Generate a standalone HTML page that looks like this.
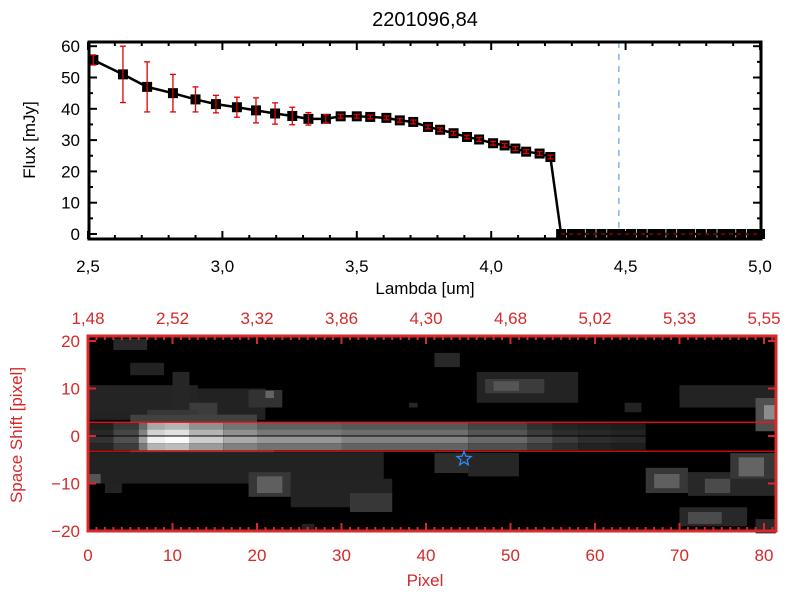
<!DOCTYPE html>
<html><head><meta charset="utf-8"><style>
html,body{margin:0;padding:0;background:#fff;}
svg{display:block;}
text{font-family:"Liberation Sans",sans-serif;}
</style></head><body>
<svg id="chart" width="800" height="600" xmlns="http://www.w3.org/2000/svg">
<rect width="800" height="600" fill="#fff"/>
<g id="top"></g>
<g id="bot"></g>
</svg>
<script>
const lambdas=[2.52,2.63,2.72,2.816,2.90,2.976,3.054,3.125,3.196,3.26,3.32,3.385,3.44,3.50,3.55,3.61,3.66,3.71,3.765,3.81,3.86,3.91,3.955,4.007,4.05,4.09,4.13,4.18,4.22,4.26,4.30,4.33,4.37,4.41,4.45,4.48,4.52,4.56,4.60,4.63,4.67,4.71,4.74,4.78,4.82,4.86,4.89,4.93,4.97,5.0];
const flux=[55.6,51,47,45,43,41.5,40.5,39.5,38.5,37.7,36.8,36.8,37.6,37.6,37.4,37.1,36.3,35.8,34.2,33.3,32.2,31,30.2,29,28.3,27.3,26.3,25.7,24.6,0,0,0,0,0,0,0,0,0,0,0,0,0,0,0,0,0,0,0,0,0];
const fluxErr=[1.6,9,8,6,4,2.8,3.2,4,3.4,2.8,2,1.3,0.6,0.6,0.6,0.6,0.6,0.6,0.6,0.6,0.6,0.6,0.6,0.6,0.6,0.6,0.6,0.6,0.6,0,0,0,0,0,0,0,0,0,0,0,0,0,0,0,0,0,0,0,0,0];
const xTicks=["2,5","3,0","3,5","4,0","4,5","5,0"];
const xTickVals=[2.5,3.0,3.5,4.0,4.5,5.0];
const yTickVals=[0,10,20,30,40,50,60];
const cutoffLambda=4.475;
const pixTickVals=[0,10,20,30,40,50,60,70,80];
const lambdaTopLabels=["1,48","2,52","3,32","3,86","4,30","4,68","5,02","5,33","5,55"];
const shiftTickVals=[20,10,0,-10,-20];
// streak: column start pixel, upper-half grey, lower-half grey
const streakCols=[0,3,6,7,9,12,16,20,30,45,52,55,58,62];
const streakUpper=[40,70,130,210,225,180,145,120,110,85,60,45,40,35];
const streakLower=[50,80,160,240,250,205,170,150,130,105,80,60,45,40];
// background patches: [pix0,pix1,y0,y1,grey]
const patches=[
[3,7,20.4,18.1,40],[5,9,15.4,12.8,35],[0,21,10,3.4,34],[0,13,10.7,4.8,36],[10,12,13.5,5,38],[12,15.3,7,3.5,60],[19,23,9.7,6,50],[21,22,9.5,8,100],
[5,20,4.5,2.8,65],[7,13,5.5,4.5,55],[5,22,-3,-5,60],[0,35,-3.4,-10,34],[0,1.5,-8,-10,85],[2,4,-10,-12,35],[19,24,-7.6,-12.8,55],[20,23,-8.5,-12,95],
[24,36,-9,-15,35],[31,36,-12,-16,55],[25.3,26.8,-18.5,-20,35],[41,46,-3.6,-7.8,45],[41,44,17.5,14.5,40],[38,39,7,6,40],
[46,58,13.5,7,35],[47,54,12,9,60],[48,51,11.5,9.5,85],[63.5,65.5,7,5,35],[70,81.4,10.7,6,35],[79,81.4,8,1,80],[80,81.4,6.5,3.5,140],
[45,51,-3.6,-8.5,38],[66,71,-6.7,-12,55],[67,70,-8,-11,95],[71,81.4,-7.6,-12.6,40],[73,76,-9,-12,75],[76,81.4,-3.6,-9,55],[77,80,-4.5,-8.5,100],
[70,78,-15,-19,40],[71,75,-16,-18.5,75],[79,81.4,-17.5,-20.5,40]
];
const starPix=44.5, starShift=-4.8;
const redLineShifts=[2.9,-3.2];

const NS="http://www.w3.org/2000/svg";
function el(tag,attrs,parent,txt){const e=document.createElementNS(NS,tag);for(const k in attrs)e.setAttribute(k,attrs[k]);if(txt!==undefined)e.textContent=txt;parent.appendChild(e);return e;}
// ---- top panel ----
const T=document.getElementById('top');
const X=v=>88+(v-2.5)*268.8, Y=v=>234-v*3.13;
const L=89,R=761,TOP=42,BOT=239;
for(let i=0;i<=25;i++){const v=2.5+i*0.1,x=X(v),maj=i%5==0,len=maj?8:4;
 const t=el('line',{x1:x,x2:x,y1:BOT,y2:BOT-len,stroke:'#000','stroke-width':2},T);
 
 const t2=el('line',{x1:x,x2:x,y1:TOP,y2:TOP+len,stroke:'#000','stroke-width':2},T);
 }
for(let v=0;v<=60;v+=5){const y=Y(v),len=v%10==0?8:4;
 el('line',{x1:L,x2:L+len,y1:y,y2:y,stroke:'#000','stroke-width':2},T);
 el('line',{x1:R,x2:R-len,y1:y,y2:y,stroke:'#000','stroke-width':2},T);}
xTickVals.forEach((v,i)=>{const t=el('text',{x:X(v),y:272,'font-size':17,'text-anchor':'middle',fill:'#000'},T,xTicks[i]);
 });
yTickVals.forEach(v=>{const t=el('text',{x:80,y:Y(v)+6,'font-size':17,'text-anchor':'end',fill:'#000'},T,String(v));
 });
const vl=el('line',{x1:X(cutoffLambda),x2:X(cutoffLambda),y1:TOP,y2:BOT,stroke:'#4a90d9','stroke-width':1,'stroke-dasharray':'6,6'},T);

let d='';lambdas.forEach((v,i)=>{d+=(i?'L':'M')+X(v)+','+Y(flux[i]);});
const pl=el('path',{d:d,fill:'none',stroke:'#000','stroke-width':2.5},T);

lambdas.forEach((v,i)=>{const x=X(v),y=Y(flux[i]);
 const m=el('rect',{x:x-5,y:y-5,width:10,height:10,fill:'#000'},T);
 
 if(fluxErr[i]>0){const y1=Math.max(TOP,Y(flux[i]+fluxErr[i])),y2=Y(flux[i]-fluxErr[i]);
  const g=el('g',{stroke:'#e00000','stroke-width':1.3},T);
  
  el('line',{x1:x,x2:x,y1:y1,y2:y2},g);el('line',{x1:x-3,x2:x+3,y1:y1,y2:y1},g);el('line',{x1:x-3,x2:x+3,y1:y2,y2:y2},g);}});
const hz=el('line',{x1:X(4.26),x2:R,y1:Y(0),y2:Y(0),stroke:'#e00000','stroke-width':1,'stroke-dasharray':'4,4'},T);

el('rect',{x:L,y:TOP,width:R-L,height:BOT-TOP,fill:'none',stroke:'#000','stroke-width':3},T);
const tt=el('text',{x:425,y:26,'font-size':20,'text-anchor':'middle',fill:'#000'},T,'2201096,84');

const xl=el('text',{x:425,y:294,'font-size':17,'text-anchor':'middle',fill:'#000'},T,'Lambda [um]');

const yl=el('text',{x:0,y:0,'font-size':17,'text-anchor':'middle',fill:'#000',transform:'translate(35,140) rotate(-90)'},T,'Flux [mJy]');

// ---- bottom panel ----
const B=document.getElementById('bot');
const PX=p=>88+p*8.45, SY=s=>436-s*4.75;
const BL=88,BR=776,BT=336,BB=531;
el('rect',{x:BL,y:BT,width:BR-BL,height:BB-BT,fill:'#000'},B);
const g=v=>`rgb(${Math.round(v)},${Math.round(v)},${Math.round(v)})`;
patches.forEach(p=>{const r=el('rect',{x:PX(p[0]),y:SY(p[2]),width:PX(p[1])-PX(p[0]),height:SY(p[3])-SY(p[2]),fill:g(p[4])},B);
 });
streakCols.forEach((c,i)=>{const c2=i+1<streakCols.length?streakCols[i+1]:66;
 const w=PX(c2)-PX(c);
 const rows=[[2.8,1.4,streakUpper[i]*0.8],[1.4,0,streakUpper[i]],[0,-1.5,streakLower[i]],[-1.5,-3,streakLower[i]*0.75]];
 rows.forEach(rw=>{const r=el('rect',{x:PX(c),y:SY(rw[0]),width:w,height:SY(rw[1])-SY(rw[0]),fill:g(rw[2])},B);
  });});
redLineShifts.forEach(s=>{const l=el('line',{x1:BL,x2:BR,y1:SY(s),y2:SY(s),stroke:'#ff1010','stroke-width':1.2},B);
 });
const cl=el('line',{x1:BL,x2:BR,y1:SY(0),y2:SY(0),stroke:'#000','stroke-width':1},B);

const sx=PX(starPix),sy=SY(starShift);let sp='';
for(let k=0;k<10;k++){const a=-Math.PI/2+k*Math.PI/5,r=k%2?3.2:7.5;sp+=(sx+r*Math.cos(a)).toFixed(1)+','+(sy+r*Math.sin(a)).toFixed(1)+' ';}
const st=el('polygon',{points:sp,fill:'none',stroke:'#2f8fff','stroke-width':1.2},B);

const RED='#d42a2a';
for(let p=0;p<=81;p++){const x=PX(p),len=p%10==0?8:4;
 el('line',{x1:x,x2:x,y1:BB,y2:BB-len,stroke:RED,'stroke-width':2},B);
 el('line',{x1:x,x2:x,y1:BT,y2:BT+len,stroke:RED,'stroke-width':2},B);}
shiftTickVals.forEach(s=>{el('line',{x1:BL,x2:BL+8,y1:SY(s),y2:SY(s),stroke:RED,'stroke-width':2},B);
 el('line',{x1:BR,x2:BR-8,y1:SY(s),y2:SY(s),stroke:RED,'stroke-width':2},B);
 const t=el('text',{x:80,y:SY(s)+6,'font-size':17,'text-anchor':'end',fill:RED},B,s<0?'\u2212'+(-s):String(s));
 });
el('rect',{x:BL,y:BT,width:BR-BL,height:BB-BT,fill:'none',stroke:RED,'stroke-width':3},B);
pixTickVals.forEach((p,i)=>{const t=el('text',{x:PX(p),y:561,'font-size':17,'text-anchor':'middle',fill:RED},B,String(p));
 
 const t2=el('text',{x:PX(p),y:324,'font-size':17,'text-anchor':'middle',fill:RED},B,lambdaTopLabels[i]);
 });
const px=el('text',{x:425,y:586,'font-size':17,'text-anchor':'middle',fill:RED},B,'Pixel');

const ss=el('text',{x:0,y:0,'font-size':17,'text-anchor':'middle',fill:RED,transform:'translate(22,435) rotate(-90)'},B,'Space Shift [pixel]');

</script>
</body></html>
